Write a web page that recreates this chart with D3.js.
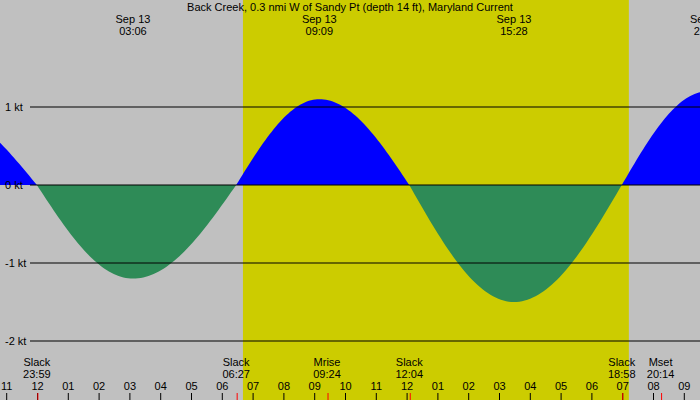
<!DOCTYPE html>
<html><head><meta charset="utf-8">
<script src="https://cdn.jsdelivr.net/npm/d3@7"></script>
<style>body{margin:0}svg{display:block;font-family:"Liberation Sans",Arial,sans-serif}</style>
</head><body>
<script>
const width = 700, height = 400;

// current extremes and slacks (hours from midnight Sep 13, knots)
const eventHours = [-3.3, -0.02, 3.1, 6.45, 9.15, 12.07, 15.47, 18.97, 21.75];
const eventValues = [1.0, 0, -1.2, 0, 1.1, 0, -1.5, 0, 1.2];
const peakHours = [3.1, 9.15, 15.47, 21.75];
const peakLabels = ["03:06", "09:09", "15:28", "21:45"];
const bottomHours = [-0.02, 6.45, 9.4, 12.07, 18.97, 20.23];
const bottomNames = ["Slack", "Slack", "Mrise", "Slack", "Slack", "Mset"];
const bottomTimes = ["23:59", "06:27", "09:24", "12:04", "18:58", "20:14"];
const dayStart = 6.67, dayEnd = 19.2;
const hourTicks = d3.range(-1, 22);
const yTicks = [1, 0, -1, -2];

const x = d3.scaleLinear().domain([0, 1]).range([37.5, 68.3]);
const y = d3.scaleLinear().domain([0, 1]).range([185, 107]);

const svg = d3.select('body').append('svg').attr('width', width).attr('height', height);

svg.append('rect').attr('width', width).attr('height', height).attr('fill', '#c0c0c0');
svg.append('rect').attr('x', x(dayStart)).attr('width', x(dayEnd) - x(dayStart))
  .attr('height', height).attr('fill', '#cccc00');

// build curve: half-sine between consecutive events
const pts = [];
for (let i = 0; i < eventHours.length - 1; i++) {
  const t0 = eventHours[i], t1 = eventHours[i + 1], v0 = eventValues[i], v1 = eventValues[i + 1];
  for (let k = 0; k < 40; k++) {
    const f = k / 40;
    const v = v0 === 0 ? v1 * Math.sin(f * Math.PI / 2) : v0 * Math.cos(f * Math.PI / 2);
    pts.push([t0 + f * (t1 - t0), v]);
  }
}
pts.push([eventHours[eventHours.length - 1], eventValues[eventValues.length - 1]]);

const area = d3.area().x(d => x(d[0])).y0(y(0)).y1(d => y(d[1]));
svg.append('path').datum(pts.map(d => [d[0], Math.max(0, d[1])])).attr('d', area).attr('fill', '#0000ff');
svg.append('path').datum(pts.map(d => [d[0], Math.min(0, d[1])])).attr('d', area).attr('fill', '#2e8b57');

svg.append('g').selectAll('line').data(yTicks).join('line')
  .attr('x1', 30).attr('x2', width).attr('y1', d => y(d)).attr('y2', d => y(d))
  .attr('stroke', 'black');
svg.append('g').selectAll('text').data(yTicks).join('text')
  .attr('x', 5).attr('y', d => y(d) + 4).attr('font-size', 11)
  .text(d => d + ' kt');

svg.append('text').attr('x', 350).attr('y', 11).attr('text-anchor', 'middle').attr('font-size', 11)
  .text('Back Creek, 0.3 nmi W of Sandy Pt (depth 14 ft), Maryland Current');
const topLabels = svg.append('g').selectAll('text').data(peakHours).join('text')
  .attr('text-anchor', 'middle').attr('font-size', 11);
topLabels.append('tspan').attr('x', d => x(d)).attr('y', 23).text('Sep 13');
topLabels.append('tspan').attr('x', d => x(d)).attr('y', 35).text((d, i) => peakLabels[i]);

const bot = svg.append('g').selectAll('text').data(bottomHours).join('text')
  .attr('text-anchor', 'middle').attr('font-size', 11);
bot.append('tspan').attr('x', d => x(d)).attr('y', 366).text((d, i) => bottomNames[i]);
bot.append('tspan').attr('x', d => x(d)).attr('y', 378).text((d, i) => bottomTimes[i]);

const h12 = d => { const m = ((d % 12) + 12) % 12; return m === 0 ? 12 : m; };
svg.append('g').selectAll('text').data(hourTicks).join('text')
  .attr('x', d => x(d)).attr('y', 390).attr('text-anchor', 'middle').attr('font-size', 11)
  .text(d => String(h12(d)).padStart(2, '0'));
svg.append('g').selectAll('line').data(hourTicks).join('line')
  .attr('x1', d => x(d)).attr('x2', d => x(d)).attr('y1', 393).attr('y2', 400).attr('stroke', 'black');
svg.append('g').selectAll('line').data(bottomHours).join('line')
  .attr('x1', d => x(d) + 1).attr('x2', d => x(d) + 1).attr('y1', 393).attr('y2', 400).attr('stroke', 'red');
</script>
</body></html>
